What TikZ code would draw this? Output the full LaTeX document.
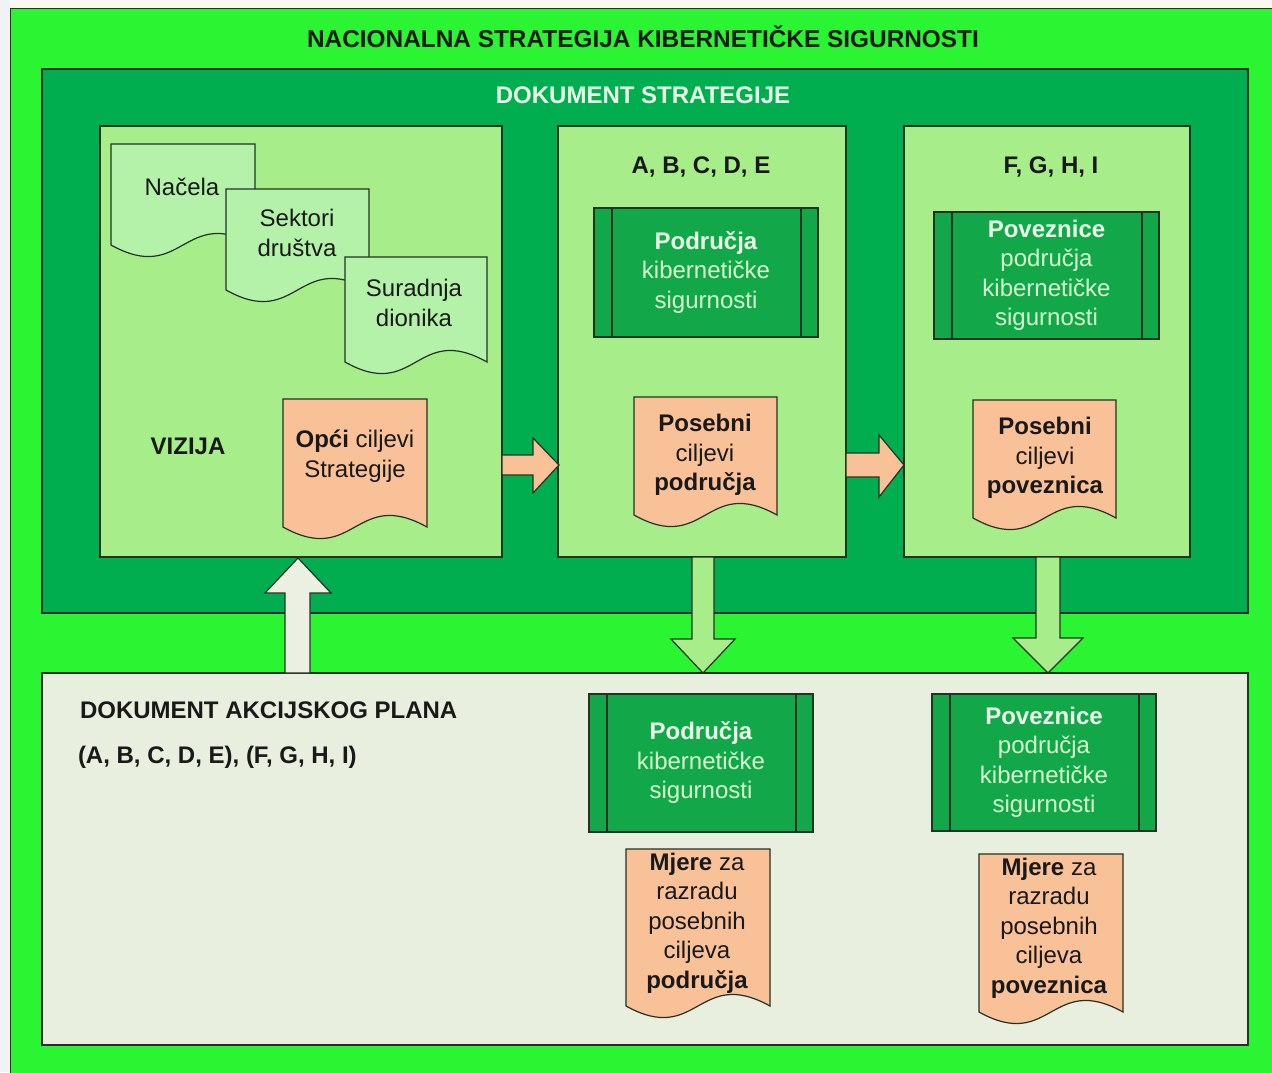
\documentclass[tikz,border=0pt]{standalone}
\usepackage{fontspec}
\setmainfont{Liberation Sans}
\usetikzlibrary{calc}
\definecolor{bggreen}{RGB}{43,245,50}
\definecolor{dkgreen}{RGB}{0,173,79}
\definecolor{ltgreen}{RGB}{167,238,138}
\definecolor{docgreen}{RGB}{180,242,170}
\definecolor{procgreen}{RGB}{18,168,74}
\definecolor{orangefill}{RGB}{248,193,152}
\definecolor{planfill}{RGB}{232,239,223}
\definecolor{upfill}{RGB}{236,240,226}
\definecolor{outline}{RGB}{35,50,35}
\definecolor{minttext}{RGB}{214,248,206}
\definecolor{whitetext}{RGB}{236,255,232}
\definecolor{inktext}{RGB}{25,25,25}
\definecolor{pagebg}{RGB}{250,248,240}
\definecolor{leftbg}{RGB}{240,242,245}
\newcommand\docshp[5]{% x1, y1, x2, yb, fill
  \filldraw[fill=#5, draw=outline, line width=1.2pt]
    (#1,#2) -- (#3,#2) -- (#3,#4)
    .. controls ({(#1+#3)/2},{#4-40}) and ({(#1+#3)/2},{#4+40}) .. (#1,#4) -- cycle;
}
\begin{document}
\begin{tikzpicture}[x=1pt,y=-1pt,
  every node/.style={font=\fontsize{24}{29.5}\selectfont, text=inktext, inner sep=0pt, outer sep=0pt},
  box/.style={draw=outline, line width=1.2pt, rectangle, anchor=north west},
  proc/.style={box, fill=procgreen, text=minttext, align=center},
  txt/.style={align=center},
  blk/.style={draw=outline, line width=1.2pt, line join=miter}
]
\useasboundingbox (0,0) rectangle (1272,1072);
\clip (0,0) rectangle (1272,1072);
\fill[pagebg] (0,0) rectangle (1272,1072);
\fill[leftbg] (0,0) rectangle (10,1072);
\filldraw[fill=bggreen, draw=outline, line width=1pt] (10,8) rectangle (1280,1080);

\node[font=\fontsize{24.4}{28}\selectfont\bfseries] (title) at (643,37) {NACIONALNA STRATEGIJA KIBERNETIČKE SIGURNOSTI};

% strategy document
\node[box, fill=dkgreen, minimum width=1206, minimum height=544] (strat) at (42,69) {};
\node[font=\fontsize{24}{28}\selectfont\bfseries, text=whitetext] (strattitle) at (643,95) {DOKUMENT STRATEGIJE};

\node[box, fill=ltgreen, minimum width=402, minimum height=431] (b1) at (100,126) {};
\node[box, fill=ltgreen, minimum width=288, minimum height=431] (b2) at (558,126) {};
\node[box, fill=ltgreen, minimum width=286, minimum height=431] (b3) at (904,126) {};

% action plan document
\node[box, fill=planfill, minimum width=1206, minimum height=372] (plan) at (42,673) {};
\node[font=\fontsize{24}{28}\selectfont\bfseries, anchor=west] (plantitle) at (80,710) {DOKUMENT AKCIJSKOG PLANA};
\node[font=\fontsize{24}{28}\selectfont\bfseries, anchor=west] (planlist) at (78,757) {(A, B, C, D, E), (F, G, H, I)};

% box 1 content
\docshp{111}{144}{255}{245}{docgreen}
\node[txt] (nacela) at (182,187) {Načela};
\docshp{226}{189}{369}{290}{docgreen}
\node[txt] (sektori) at (297,233) {Sektori\\društva};
\docshp{345}{257}{487}{362}{docgreen}
\node[txt] (suradnja) at (414,303) {Suradnja\\dionika};
\node[font=\fontsize{24}{28}\selectfont\bfseries] (vizija) at (188,446) {VIZIJA};
\docshp{283}{399}{427}{527}{orangefill}
\node[txt] (opci) at (355,456) {\textbf{Opći} ciljevi\\Strategije};

% box 2 content
\node[font=\fontsize{24}{28}\selectfont\bfseries] (abcde) at (701,167) {A, B, C, D, E};
\node[proc, minimum width=224, minimum height=129] (p1) at (594,208) {\textcolor{whitetext}{\textbf{Područja}}\\kibernetičke\\sigurnosti};
\docshp{634}{397}{777}{515}{orangefill}
\node[txt] (pos1) at (705,455) {\textbf{Posebni}\\ciljevi\\\textbf{područja}};

% box 3 content
\node[font=\fontsize{24}{28}\selectfont\bfseries] (fghi) at (1051,167) {F, G, H, I};
\node[proc, minimum width=225, minimum height=127] (p2) at (934,212) {\textcolor{whitetext}{\textbf{Poveznice}}\\područja\\kibernetičke\\sigurnosti};
\docshp{973}{400}{1116}{518}{orangefill}
\node[txt] (pos2) at (1045,458) {\textbf{Posebni}\\ciljevi\\\textbf{poveznica}};

% plan content
\node[proc, minimum width=224, minimum height=138] (p3) at (589,694) {\textcolor{whitetext}{\textbf{Područja}}\\kibernetičke\\sigurnosti};
\node[proc, minimum width=224, minimum height=137] (p4) at (932,694) {\textcolor{whitetext}{\textbf{Poveznice}}\\područja\\kibernetičke\\sigurnosti};
\docshp{626}{849}{770}{1006}{orangefill}
\node[txt] (mjere1) at (697,923) {\textbf{Mjere} za\\razradu\\posebnih\\ciljeva\\\textbf{područja}};
\docshp{979}{854}{1123}{1012}{orangefill}
\node[txt] (mjere2) at (1049,928) {\textbf{Mjere} za\\razradu\\posebnih\\ciljeva\\\textbf{poveznica}};

% inner lines of predefined-process boxes
\foreach \n in {p1,p2,p3,p4}{
  \draw[outline, line width=1.2pt] ($(\n.north west)+(18,0)$) -- ($(\n.south west)+(18,0)$);
  \draw[outline, line width=1.2pt] ($(\n.north east)+(-17,0)$) -- ($(\n.south east)+(-17,0)$);
}

% block arrows
\filldraw[blk, fill=orangefill] ($(b1.north east)+(0,329)$) -- ++(31,0) -- ++(0,-17)
  -- ($(b2.north west)+(1,339)$) -- ($(b1.north east)+(31,367)$) -- ++(0,-18) -- ($(b1.north east)+(0,349)$) -- cycle;
\filldraw[blk, fill=orangefill] ($(b2.north east)+(0,327)$) -- ++(33,0) -- ++(0,-18)
  -- ($(b3.north west)+(0,339)$) -- ($(b2.north east)+(33,371)$) -- ++(0,-20) -- ($(b2.north east)+(0,351)$) -- cycle;
\filldraw[blk, fill=upfill] ($(plan.north west)+(243,0)$) -- ++(0,-80) -- ++(-20,0)
  -- ($(b1.south west)+(198,1)$) -- ($(plan.north west)+(289,-80)$) -- ++(-21,0) -- ($(plan.north west)+(268,0)$) -- cycle;
\filldraw[blk, fill=ltgreen] ($(b2.south west)+(134,0)$) -- ++(0,82) -- ++(-21,0)
  -- ($(plan.north west)+(661,0)$) -- ($(b2.south west)+(177,82)$) -- ++(-21,0) -- ($(b2.south west)+(156,0)$) -- cycle;
\filldraw[blk, fill=ltgreen] ($(b3.south west)+(132,0)$) -- ++(0,81) -- ++(-23,0)
  -- ($(plan.north west)+(1006,0)$) -- ($(b3.south west)+(179,81)$) -- ++(-23,0) -- ($(b3.south west)+(156,0)$) -- cycle;
\end{tikzpicture}
\end{document}
